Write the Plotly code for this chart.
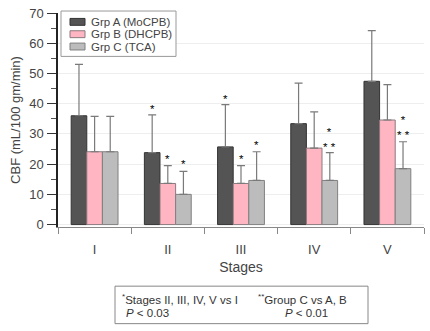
import plotly.graph_objects as go

stages = ["I", "II", "III", "IV", "V"]
groups = ["Grp A (MoCPB)", "Grp B (DHCPB)", "Grp C (TCA)"]
mean_a = [36, 23.8, 25.7, 33.4, 47.4]
mean_b = [24.1, 13.6, 13.6, 25.3, 34.6]
mean_c = [24.1, 10.0, 14.6, 14.6, 18.5]
err_a = [17, 12.5, 14, 13.4, 16.8]
err_b = [11.7, 5.9, 5.9, 12.0, 11.7]
err_c = [11.7, 7.6, 9.5, 9.2, 8.9]
colors = ["#545454", "#ffb5c2", "#bcbcbc"]
outlines = ["#333333", "#8a7a7e", "#808080"]

# significance marks: (stage index, group index, value position, text)
marks = [
    (1, 0, 38.4, "*"), (1, 1, 21.8, "*"), (1, 2, 19.9, "*"),
    (2, 0, 41.7, "*"), (2, 1, 21.8, "*"), (2, 2, 26.4, "*"),
    (3, 2, 28.3, "*<br>* *"),
    (4, 2, 32.1, "*<br>* *"),
]

xs = list(range(len(stages)))
means = [mean_a, mean_b, mean_c]
errs = [err_a, err_b, err_c]

L, T, W, H = 58, 10, 366, 217


def px_x(p):
    return (p - L) / W


def px_y(p):
    return (T + H - p) / H


fig = go.Figure()
for g in range(3):
    fig.add_trace(go.Bar(
        x=xs, y=means[g], name=groups[g],
        marker=dict(color=colors[g], line=dict(color=outlines[g], width=1)),
        error_y=dict(type="data", symmetric=False, array=errs[g],
                     arrayminus=[0] * len(stages), color="#7a7a7a",
                     thickness=1.2, width=4),
        showlegend=False,
    ))

bw = (1 - 0.36) / 3
for si, gi, yv, txt in marks:
    fig.add_annotation(x=si + (gi - 1) * bw, y=yv, xref="x", yref="y",
                       text=txt, showarrow=False,
                       font=dict(size=11.5, color="#000000"))

fig.update_layout(
    width=430, height=331,
    margin=dict(l=L, r=430 - L - W, t=T, b=331 - T - H),
    barmode="group", bargap=0.36, bargroupgap=0,
    plot_bgcolor="white", paper_bgcolor="white",
    font=dict(family="Liberation Sans, Arial, sans-serif", color="#333333", size=13),
    showlegend=False,
)
fig.update_xaxes(
    range=[-0.5, 4.5], tickvals=xs, ticktext=stages, ticks="",
    ticklabelstandoff=10,
    showline=True, linecolor="#888888", linewidth=1,
    showgrid=False, zeroline=False,
    minor=dict(tickvals=[i - 0.5 for i in range(len(stages) + 1)],
               ticks="outside", ticklen=6, tickcolor="#888888", showgrid=False),
    tickfont=dict(size=13, color="#444444"),
    title=dict(text="Stages", font=dict(size=14, color="#444444"), standoff=6),
)
fig.update_yaxes(
    range=[-0.8, 70], tickvals=[0, 10, 20, 30, 40, 50, 60, 70],
    ticks="outside", ticklen=9, tickcolor="#333333",
    ticklabelstandoff=1,
    showline=True, linecolor="#222222", linewidth=1.5,
    showgrid=True, gridcolor="#eeeeee", zeroline=False,
    minor=dict(dtick=5, tick0=0, ticks="outside", ticklen=5, tickcolor="#555555", showgrid=False),
    tickfont=dict(size=13, color="#444444"),
    title=dict(text="CBF (mL/100 gm/min)", font=dict(size=13, color="#444444"), standoff=6),
)

# custom legend box
fig.add_shape(type="rect", xref="paper", yref="paper",
              x0=px_x(61), x1=px_x(176), y0=px_y(54), y1=px_y(8),
              line=dict(color="#999999", width=1), fillcolor="white", layer="above")
row_y = [19, 31.5, 44]
for g in range(3):
    fig.add_shape(type="rect", xref="paper", yref="paper",
                  x0=px_x(70), x1=px_x(85), y0=px_y(row_y[g] + 3.5), y1=px_y(row_y[g] - 3.5),
                  line=dict(color=outlines[g], width=1), fillcolor=colors[g], layer="above")
    fig.add_annotation(xref="paper", yref="paper", x=px_x(89), y=px_y(row_y[g]),
                       xanchor="left", yanchor="middle", showarrow=False,
                       text=groups[g], font=dict(size=11.5, color="#444444"))

# footnote box
fig.add_shape(type="rect", xref="paper", yref="paper",
              x0=px_x(115), x1=px_x(368), y0=px_y(325), y1=px_y(287),
              line=dict(color="#888888", width=1), fillcolor="white")
notes = [
    (120, 300, "<sup>*</sup>Stages II, III, IV, V vs I"),
    (124, 314, "<i>P</i> < 0.03"),
    (256, 300, "<sup>**</sup>Group C vs A, B"),
    (283, 314, "<i>P</i> < 0.01"),
]
for nx, ny, nt in notes:
    fig.add_annotation(xref="paper", yref="paper", x=px_x(nx), y=px_y(ny),
                       xanchor="left", yanchor="middle", showarrow=False,
                       text=nt, font=dict(size=11.5, color="#333333"))

fig.write_html("out.html")
